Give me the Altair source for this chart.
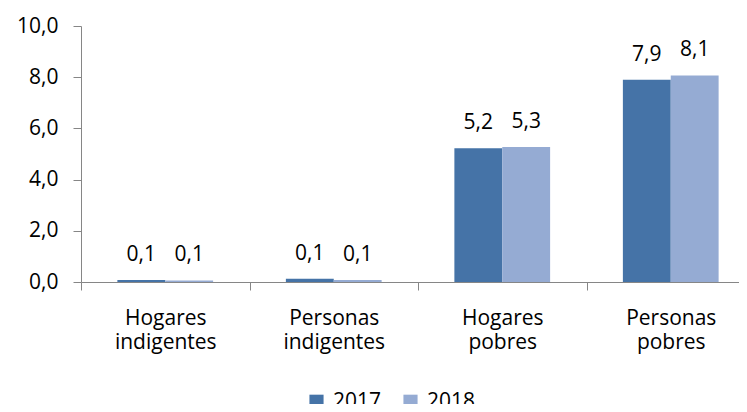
import altair as alt
import pandas as pd

categories = ["Hogares indigentes", "Personas indigentes", "Hogares pobres", "Personas pobres"]
years = ["2017", "2018"]
values_2017 = [0.08, 0.13, 5.22, 7.90]
values_2018 = [0.06, 0.08, 5.27, 8.07]
y_ticks = [0, 2, 4, 6, 8, 10]
colors = ["#4573A7", "#95ABD3"]

rows = []
for c, a, b in zip(categories, values_2017, values_2018):
    rows.append({"cat": c, "year": years[0], "value": a})
    rows.append({"cat": c, "year": years[1], "value": b})
df = pd.DataFrame(rows)

FONT = "Open Sans"
AXC = "#868686"
FS = 21

x = alt.X(
    "cat:N", sort=categories, title=None,
    scale=alt.Scale(paddingInner=0, paddingOuter=0),
    axis=alt.Axis(labelAngle=0, labelExpr="split(datum.label, ' ')", tickBand="extent",
                  domainColor=AXC, tickColor=AXC, tickSize=8, labelPadding=17,
                  labelFontSize=FS, labelFont=FONT, labelColor="#000000",
                  labelLineHeight=24, labelFontWeight="normal"),
)
xo = alt.XOffset("year:N", sort=years, scale=alt.Scale(paddingOuter=0.76, paddingInner=0))
y = alt.Y(
    "value:Q", title=None,
    scale=alt.Scale(domain=[0, 10], nice=False),
    axis=alt.Axis(values=y_ticks, labelExpr="replace(format(datum.value, '.1f'), '.', ',')",
                  grid=False, domainColor=AXC, tickColor=AXC, tickSize=8, labelPadding=15,
                  labelFontSize=FS, labelFont=FONT, labelColor="#000000"),
)
color = alt.Color(
    "year:N", sort=years,
    scale=alt.Scale(domain=years, range=colors),
    legend=alt.Legend(title=None, orient="none", legendX=225, legendY=365, direction="horizontal",
                      symbolType="square", symbolSize=200, symbolStrokeWidth=0,
                      labelFontSize=FS, labelFont=FONT, labelColor="#000000",
                      columnPadding=18, labelOffset=6),
)

bars = alt.Chart(df).mark_bar().encode(x=x, xOffset=xo, y=y, color=color)
text = (
    alt.Chart(df)
    .transform_calculate(lbl="replace(format(datum.value, '.1f'), '.', ',')")
    .mark_text(baseline="alphabetic", dy=-19, fontSize=FS, font=FONT, color="#000000")
    .encode(x=x, xOffset=xo, y=y, text="lbl:N")
)

chart = (
    (bars + text)
    .properties(width=674, height=256, autosize=alt.AutoSizeParams(type="none"),
                padding={"left": 73, "top": 18, "right": -16, "bottom": 122})
    .configure_view(stroke=None)
)
chart.save("out.html", embed_options={"renderer": "svg", "actions": False})
